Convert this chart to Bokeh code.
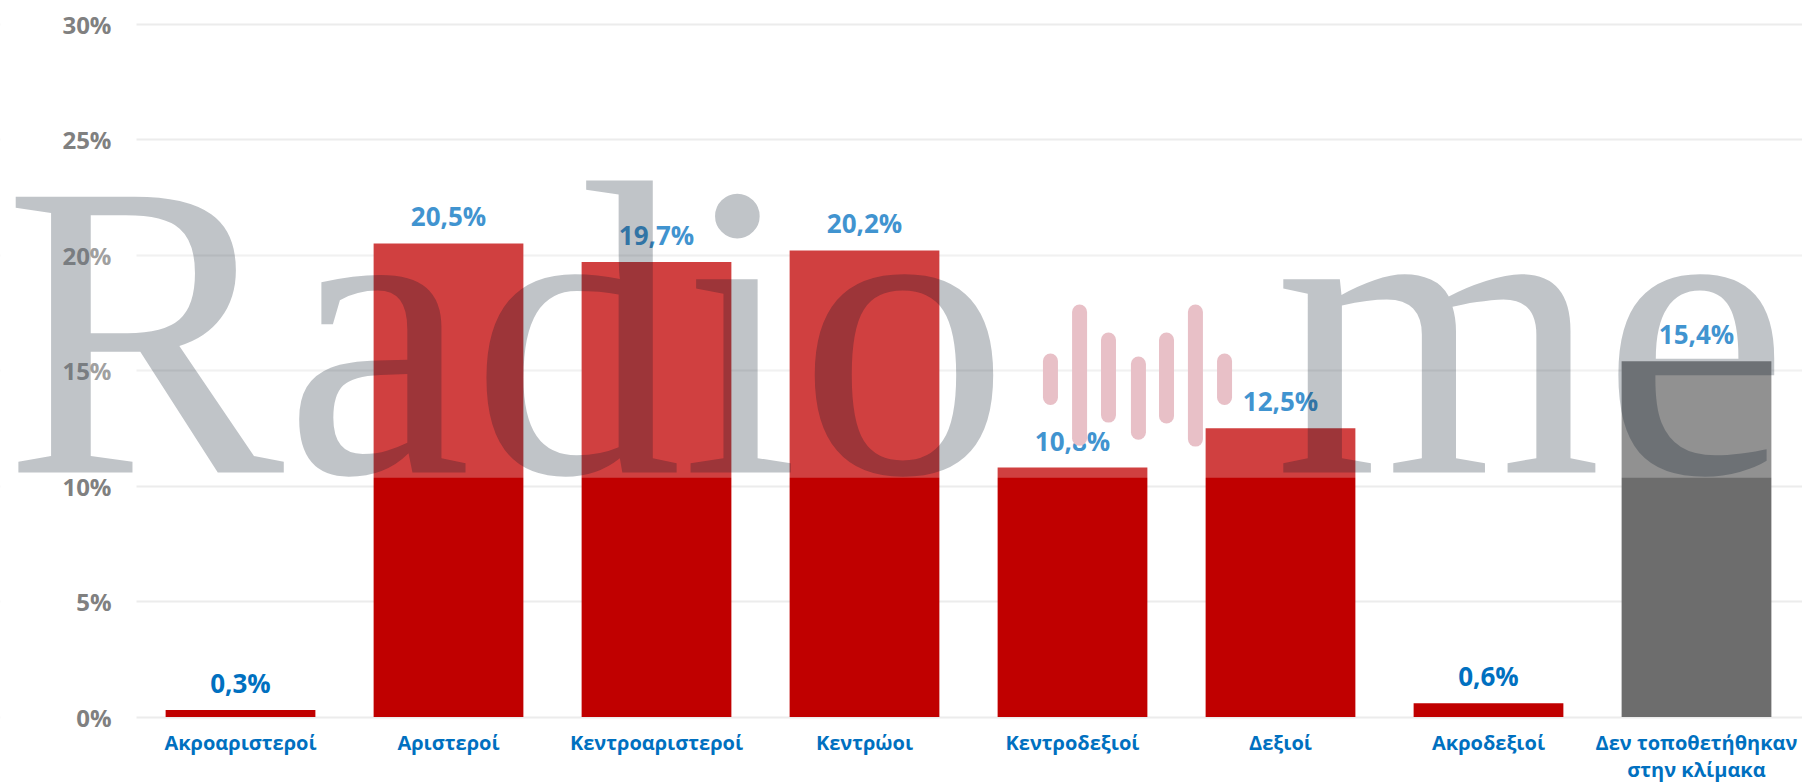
from bokeh.plotting import figure
from bokeh.models import (ColumnDataSource, Range1d, FixedTicker,
                          PrintfTickFormatter, BoxAnnotation, Label)
from bokeh.core.properties import value
from bokeh.embed import file_html
from bokeh.resources import INLINE

# ---- data ----
categories = ["Ακροαριστεροί", "Αριστεροί", "Κεντροαριστεροί", "Κεντρώοι",
              "Κεντροδεξιοί", "Δεξιοί", "Ακροδεξιοί",
              "Δεν τοποθετήθηκαν\nστην κλίμακα"]
values = [0.3, 20.5, 19.7, 20.2, 10.8, 12.5, 0.6, 15.4]
value_labels = ["0,3%", "20,5%", "19,7%", "20,2%", "10,8%", "12,5%", "0,6%", "15,4%"]
y_ticks = [0, 5, 10, 15, 20, 25, 30]

# ---- styles ----
RED = "#C00000"
GRAY = "#6D6D6D"
BLUE = "#0070C0"
FONT = "Open Sans"
bar_colors = [RED] * (len(categories) - 1) + [GRAY]

W, H = 1802, 782
LEFT_PX, BAND_PX = 136, 208          # plot-area left edge and category band width
ZERO_PX, PX_PER_PCT = 716.5, 23.1    # y position of 0% and pixels per percent

n = len(categories)
x_pos = list(range(n))
src = ColumnDataSource(dict(x=x_pos, val=values, lab=value_labels, col=bar_colors))

x_start = -0.5 - LEFT_PX / BAND_PX
x_end = x_start + W / BAND_PX
y_start = -(H - ZERO_PX) / PX_PER_PCT
y_end = y_start + H / PX_PER_PCT

p = figure(x_range=Range1d(x_start, x_end), y_range=Range1d(y_start, y_end),
           width=W, height=H, output_backend="svg", toolbar_location=None,
           min_border=0)
p.outline_line_color = None
p.background_fill_color = "white"
p.border_fill_color = "white"

# grid
p.xgrid.grid_line_color = None
p.ygrid.grid_line_color = "#ECECEC"
p.ygrid.grid_line_width = 2
p.ygrid.ticker = FixedTicker(ticks=y_ticks)
# keep grid lines out of the tick-label area
p.add_layout(BoxAnnotation(right=-0.5, fill_color="white", fill_alpha=1,
                           line_color=None, level="underlay"))

# axes (drawn inside the canvas at fixed data locations)
p.yaxis.ticker = FixedTicker(ticks=y_ticks)
p.yaxis.formatter = PrintfTickFormatter(format="%d%%")
p.yaxis.fixed_location = -0.5
p.xaxis.ticker = FixedTicker(ticks=x_pos)
p.xaxis.major_label_overrides = {i: c for i, c in zip(x_pos, categories)}
p.xaxis.fixed_location = 0

for ax in (p.xaxis[0], p.yaxis[0]):
    ax.axis_line_color = None
    ax.major_tick_line_color = None
    ax.minor_tick_line_color = None
    ax.major_tick_out = 0
    ax.major_tick_in = 0
    ax.major_label_text_font = FONT
    ax.major_label_text_font_style = "bold"

p.yaxis.major_label_text_color = "#808080"
p.yaxis.major_label_text_font_size = "24px"
p.yaxis.major_label_standoff = 25

p.xaxis.major_label_text_color = BLUE
p.xaxis.major_label_text_font_size = "20px"
p.xaxis.major_label_standoff = 12
p.xaxis.major_label_text_line_height = 1.0

# bars
p.vbar(x="x", top="val", width=0.72, source=src, fill_color="col", line_color=None)

# value labels
p.text(x="x", y="val", text="lab", source=src, text_align="center",
       text_baseline="middle", y_offset=-27, text_color=BLUE,
       text_font=value(FONT), text_font_style="bold", text_font_size="26px")

# ---- watermark (decoration) ----
logo_line_x = [3.894, 4.034, 4.173, 4.317, 4.452, 4.591, 4.731]
logo_line_y0 = [13.83, 12.07, 13.07, 12.33, 13.03, 12.03, 13.83]
logo_line_y1 = [15.41, 17.53, 16.32, 15.28, 16.32, 17.53, 15.41]
p.segment(x0=logo_line_x, y0=logo_line_y0, x1=logo_line_x, y1=logo_line_y1,
          line_width=15, line_cap="round", line_color="#E0ABB5")

p.add_layout(BoxAnnotation(bottom=10.36, top=22.8, fill_color="white",
                           fill_alpha=0.25, line_color=None))

for txt, xx in (("Radio", -1.139), ("me", 4.971)):
    p.add_layout(Label(x=xx, y=16.73, text=txt, text_font="Liberation Serif",
                       text_font_size="421px", text_color="#041424",
                       text_alpha=0.25, text_align="left",
                       text_baseline="middle"))

open("out.html", "w").write(file_html(p, INLINE))
